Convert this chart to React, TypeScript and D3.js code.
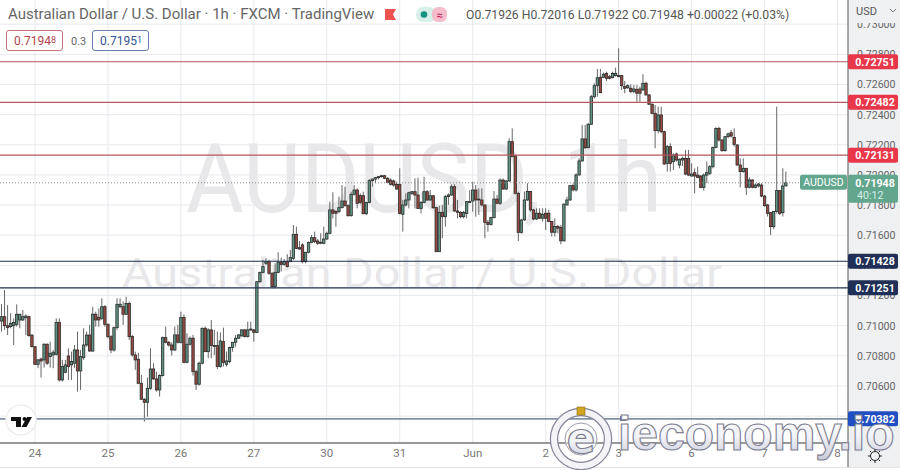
import * as React from 'react'
import * as d3 from 'd3'

// prices below are in 1e-5 units (71948 = 0.71948)
const opens = [
  71031,71060,71000,70994,71000,71009,71038,71038,71053,71060,
  70938,70861,70744,70779,70773,70877,70795,70806,70810,71022,
  70640,70691,70799,70740,70751,70839,70700,70788,70872,70938,
  70832,71076,71056,71049,71126,71009,70927,70839,70987,71126,
  71126,71076,71148,70928,70806,70777,70618,70512,70492,70585,
  70713,70647,70574,70669,70921,70890,70872,70839,70939,70890,
  71054,70757,70877,70917,70695,70612,70751,70983,70828,70972,
  70868,70868,70729,70894,70744,70762,70855,70890,70917,70932,
  70972,70928,70972,70972,70956,71292,71354,71414,71425,71348,
  71259,71354,71421,71407,71425,71425,71447,71606,71518,71536,
  71425,71487,71553,71584,71562,71547,71547,71575,71613,71768,
  71757,71757,71783,71827,71796,71730,71872,71900,71863,71863,
  71743,71818,71962,71973,71982,71989,71995,71978,71966,71960,
  71938,71938,71739,71801,71834,71878,71889,71867,71778,71818,
  71889,71834,71862,71783,71491,71752,71723,71856,71867,71922,
  71761,71752,71723,71745,71818,71827,71900,71840,71834,71801,
  71686,71672,71717,71840,71812,71966,71907,71960,72221,72128,
  71878,71619,71702,71834,71890,71768,71708,71746,71713,71746,
  71746,71691,71620,71658,71651,71563,71801,71834,71929,71901,
  72000,72093,72239,72181,72336,72519,72592,72648,72648,72674,
  72652,72645,72659,72659,72659,72586,72579,72575,72553,72568,
  72570,72564,72608,72531,72469,72409,72294,72398,72287,72077,
  72188,72088,72139,72066,72099,72110,72110,71993,72015,71999,
  71993,71918,71999,72011,72055,72183,72309,72232,72161,72254,
  72280,72249,72199,72066,72022,72044,71918,71967,71918,71927,
  71933,71860,71801,71750,71657,71757,71896,71750,71927,
]
const highs = [
  71144,71237,71137,71082,71049,71142,71076,71104,71076,71067,
  70942,70865,70779,70788,70883,70883,70894,70839,71049,71049,
  70773,70773,70850,70828,70872,70961,70839,70983,70961,71005,
  71126,71093,71115,71182,71137,71016,70938,70994,71182,71182,
  71160,71193,71160,70939,70828,70821,70673,70519,70656,70850,
  70751,70695,70678,70928,70994,70899,70890,70994,71005,71093,
  71076,70950,70928,70939,70707,70762,70987,70994,70983,71038,
  70972,70961,70956,70987,70828,70861,70890,70939,70943,70978,
  70978,71027,71027,70978,71297,71358,71436,71447,71436,71354,
  71414,71487,71452,71443,71474,71502,71668,71657,71562,71547,
  71490,71558,71602,71624,71575,71613,71657,71624,71823,71885,
  71768,71856,71933,71922,71805,71889,71933,71911,71878,71889,
  71823,71973,71975,71985,71992,71998,72000,71985,71977,71970,
  71955,72044,71834,71878,71889,71893,71977,71982,71827,71988,
  71900,71900,71867,71790,71795,71801,71867,71878,71938,71938,
  71834,71761,71761,71827,71900,71955,71933,71911,71911,71801,
  71701,71723,71893,71867,71977,71977,71966,72243,72309,72132,
  71889,71710,71890,71945,71894,71775,71779,71779,71779,71779,
  71768,71695,71713,71669,71669,71812,71856,71934,71945,72011,
  72111,72332,72332,72345,72531,72608,72703,72703,72680,72685,
  72663,72685,72712,72840,72663,72623,72601,72601,72597,72597,
  72586,72668,72619,72535,72475,72464,72453,72453,72294,72199,
  72210,72143,72148,72110,72121,72166,72166,72077,72044,72055,
  71999,72011,72088,72066,72188,72316,72320,72236,72258,72280,
  72298,72309,72203,72110,72110,72044,71984,71971,71945,71945,
  71945,71867,71808,71750,71757,72453,71900,72044,72022,
]
const lows = [
  70961,70972,70938,70983,70872,70994,70983,71031,70938,70927,
  70855,70740,70718,70656,70722,70740,70722,70718,70803,70629,
  70629,70684,70640,70640,70718,70563,70574,70773,70861,70828,
  70828,70994,70994,71038,70994,70916,70817,70828,70972,71115,
  71005,71071,70905,70795,70707,70612,70508,70364,70397,70574,
  70640,70563,70530,70662,70883,70861,70802,70833,70883,70883,
  70751,70751,70868,70669,70574,70603,70744,70825,70784,70784,
  70806,70713,70722,70729,70729,70751,70828,70861,70912,70928,
  70921,70921,70965,70894,70950,71281,71348,71403,71337,71248,
  71248,71348,71359,71398,71385,71421,71436,71509,71502,71414,
  71414,71480,71547,71547,71536,71540,71540,71569,71606,71712,
  71657,71746,71779,71790,71723,71723,71863,71779,71805,71739,
  71734,71812,71922,71945,71970,71982,71972,71945,71929,71922,
  71900,71739,71624,71790,71778,71867,71778,71774,71745,71812,
  71827,71827,71774,71491,71491,71580,71657,71801,71862,71756,
  71712,71712,71712,71712,71812,71756,71723,71734,71790,71580,
  71624,71664,71712,71805,71801,71900,71900,71955,72121,71871,
  71562,71610,71695,71828,71757,71700,71702,71708,71691,71635,
  71686,71591,71591,71613,71540,71558,71797,71828,71890,71890,
  71996,72088,72172,72177,72332,72508,72519,72542,72641,72623,
  72634,72641,72652,72648,72564,72542,72570,72542,72542,72486,
  72486,72557,72526,72464,72402,72177,72276,72276,72066,72022,
  72022,72033,72088,72044,72059,71999,71993,71989,71878,71978,
  71911,71896,71945,71999,72044,72177,72221,72155,72155,72243,
  72249,72188,72059,71918,72015,71867,71911,71911,71911,71918,
  71852,71790,71724,71602,71640,71745,71734,71724,71925,
]
const closes = [
  71060,71000,70987,71016,71022,71076,71076,71060,71064,70934,
  70861,70744,70773,70766,70877,70751,70817,70824,71022,70640,
  70729,70740,70729,70762,70839,70700,70795,70872,70938,70832,
  71076,71038,71038,71126,71009,70927,70839,70987,71142,71142,
  71076,71148,70927,70806,70773,70618,70512,70492,70585,70713,
  70647,70574,70669,70921,70890,70872,70839,70939,70890,71054,
  70757,70877,70917,70695,70612,70751,70983,70828,70972,70868,
  70862,70729,70899,70757,70766,70855,70890,70917,70939,70972,
  70928,70972,70978,70956,71292,71354,71392,71425,71348,71259,
  71354,71421,71407,71425,71392,71452,71606,71513,71509,71425,
  71487,71553,71584,71558,71547,71553,71575,71613,71768,71746,
  71746,71783,71827,71796,71730,71872,71900,71812,71818,71743,
  71818,71962,71973,71982,71989,71995,71978,71951,71938,71933,
  71907,71745,71801,71834,71882,71889,71867,71778,71818,71889,
  71834,71862,71783,71491,71752,71723,71856,71867,71922,71761,
  71752,71723,71752,71823,71823,71900,71834,71834,71801,71686,
  71672,71717,71840,71812,71966,71907,71960,72221,72121,71878,
  71619,71701,71834,71890,71768,71708,71746,71713,71739,71713,
  71691,71620,71658,71647,71563,71806,71834,71929,71901,72000,
  72093,72239,72181,72336,72519,72592,72645,72546,72668,72641,
  72641,72674,72674,72652,72592,72575,72592,72553,72570,72542,
  72542,72608,72531,72469,72409,72294,72398,72287,72073,72188,
  72077,72132,72099,72104,72110,72006,71999,72006,71993,71984,
  71918,71999,72015,72055,72183,72309,72232,72161,72254,72272,
  72258,72203,72066,72022,72044,71918,71967,71918,71933,71940,
  71860,71796,71745,71657,71757,71896,71745,71927,71948,
]

const dayLabels = ['24', '25', '26', '27', '30', '31', 'Jun', '2', '3', '6', '7', '8']
const dayIndexes = [11, 35, 59, 83, 107, 131, 155, 179, 203, 227, 251, 275]
const priceTicks = [0.73, 0.728, 0.726, 0.724, 0.722, 0.72, 0.718, 0.716, 0.714, 0.712, 0.71, 0.708, 0.706, 0.704]
const redLevels = [0.72751, 0.72482, 0.72131]
const navyLevels = [0.71428, 0.71251]
const blueLevel = 0.70382
const lastPrice = 0.71948
const legendValues = 'O0.71926 H0.72016 L0.71922 C0.71948 +0.00022 (+0.03%)'

const WIDTH = 900
const HEIGHT = 470
const PLOT_RIGHT = 848
const PLOT_BOTTOM = 443
const FONT = 'Roboto, "Open Sans", sans-serif'

export default function App() {
  const svgRef = React.useRef<SVGSVGElement | null>(null)

  React.useEffect(() => {
    const svg = d3.select(svgRef.current)
    svg.selectAll('*').remove()

    const x = d3.scaleBand<number>().domain(d3.range(280)).range([0, 851.2])
    const y = d3.scaleLinear().domain([0.726, 0.706]).range([84.5, 386])
    const cx = (i: number) => (x(i) as number) + x.bandwidth() / 2
    const fmt = d3.format('.5f')

    const defs = svg.append('defs')
    const clip = defs.append('clipPath').attr('id', 'plot')
    clip.append('rect').attr('width', PLOT_RIGHT).attr('height', PLOT_BOTTOM)
    const grad = defs.append('linearGradient').attr('id', 'silver').attr('x1', 0).attr('x2', 0).attr('y1', 0).attr('y2', 1)
    grad.append('stop').attr('offset', '0%').attr('stop-color', '#ffffff')
    grad.append('stop').attr('offset', '55%').attr('stop-color', '#f2f3f8')
    grad.append('stop').attr('offset', '100%').attr('stop-color', '#c9cbd8')

    svg.append('rect').attr('width', WIDTH).attr('height', HEIGHT).attr('fill', '#fff')

    const plot = svg.append('g').attr('clip-path', 'url(#plot)')

    // grid
    plot.selectAll('.hgrid').data(priceTicks).enter().append('line')
      .attr('x1', 0).attr('x2', PLOT_RIGHT)
      .attr('y1', d => y(d)).attr('y2', d => y(d))
      .attr('stroke', '#e7e9ee').attr('stroke-width', 1)
    plot.selectAll('.vgrid').data(dayIndexes).enter().append('line')
      .attr('x1', d => cx(d)).attr('x2', d => cx(d))
      .attr('y1', 0).attr('y2', PLOT_BOTTOM)
      .attr('stroke', '#e7e9ee').attr('stroke-width', 1)

    // watermark
    plot.append('text').text('AUDUSD, 1h')
      .attr('x', 424).attr('y', 212).attr('text-anchor', 'middle')
      .attr('font-family', FONT).attr('font-size', 96)
      .attr('textLength', 476).attr('lengthAdjust', 'spacingAndGlyphs')
      .attr('fill', '#e8e8ea')
    plot.append('text').text('Australian Dollar / U.S. Dollar')
      .attr('x', 422).attr('y', 287).attr('text-anchor', 'middle')
      .attr('font-family', FONT).attr('font-size', 40)
      .attr('textLength', 600).attr('lengthAdjust', 'spacingAndGlyphs')
      .attr('fill', '#e8e8ea')

    // candles
    const candles = plot.selectAll('.candle').data(opens).enter().append('g')
    candles.append('line')
      .attr('x1', (d, i) => cx(i)).attr('x2', (d, i) => cx(i))
      .attr('y1', (d, i) => y(highs[i] / 1e5)).attr('y2', (d, i) => y(lows[i] / 1e5))
      .attr('stroke', '#666').attr('stroke-width', 1)
    candles.append('rect')
      .attr('x', (d, i) => cx(i) - 1.2)
      .attr('width', 2.4)
      .attr('y', (d, i) => y(Math.max(d, closes[i]) / 1e5))
      .attr('height', (d, i) => Math.max(0.8, Math.abs(y(d / 1e5) - y(closes[i] / 1e5))))
      .attr('fill', (d, i) => (closes[i] >= d ? '#5f9585' : '#9a4a42'))
      .attr('stroke', '#2b2b2b').attr('stroke-width', 0.8)

    // drawn levels
    const levelLine = (price: number, color: string, w: number) => plot.append('line')
      .attr('x1', 0).attr('x2', PLOT_RIGHT).attr('y1', y(price)).attr('y2', y(price))
      .attr('stroke', color).attr('stroke-width', w)
    redLevels.forEach(p => levelLine(p, '#b5555f', 1.2))
    navyLevels.forEach(p => levelLine(p, '#1f2c4a', 1.1))
    levelLine(blueLevel, '#8390a3', 1.6)
    plot.append('line')
      .attr('x1', 0).attr('x2', PLOT_RIGHT).attr('y1', y(lastPrice)).attr('y2', y(lastPrice))
      .attr('stroke', '#8a8a8a').attr('stroke-dasharray', '1 2')

    // bottom border and time axis
    svg.append('line').attr('x1', 0).attr('x2', PLOT_RIGHT).attr('y1', PLOT_BOTTOM).attr('y2', PLOT_BOTTOM)
      .attr('stroke', '#333').attr('stroke-width', 1.2)
    const timeAxis = d3.axisBottom(x)
      .tickValues(dayIndexes)
      .tickSize(0)
      .tickPadding(6)
      .tickFormat((d: number) => dayLabels[dayIndexes.indexOf(d)])
    const tg = svg.append('g').attr('transform', `translate(0,${PLOT_BOTTOM})`).call(timeAxis as any)
    tg.select('.domain').remove()
    tg.selectAll('text').attr('font-family', FONT).attr('font-size', 11.5).attr('fill', '#777')
    svg.append('line').attr('x1', 0).attr('x2', WIDTH).attr('y1', 467.5).attr('y2', 467.5).attr('stroke', '#e4e4e4')

    // price axis
    svg.append('rect').attr('x', PLOT_RIGHT).attr('width', WIDTH - PLOT_RIGHT).attr('height', 467).attr('fill', '#eff0f2')
    const priceAxis = d3.axisRight(y).tickValues(priceTicks).tickSize(0).tickPadding(9).tickFormat(d => fmt(d as number))
    const pg = svg.append('g').attr('transform', `translate(${PLOT_RIGHT},0)`).call(priceAxis as any)
    pg.select('.domain').remove()
    pg.selectAll('text').attr('font-family', FONT).attr('font-size', 10.6).attr('fill', '#666')
    svg.append('rect').attr('x', PLOT_RIGHT).attr('width', WIDTH - PLOT_RIGHT).attr('height', 23).attr('fill', '#eff0f2')
    svg.append('line').attr('x1', PLOT_RIGHT).attr('x2', PLOT_RIGHT).attr('y1', 0).attr('y2', 467)
      .attr('stroke', '#555').attr('stroke-width', 1)
    svg.append('text').text('USD').attr('x', 856).attr('y', 15)
      .attr('font-family', FONT).attr('font-size', 11).attr('fill', '#555')
    svg.append('path').attr('d', 'M890 9l3 3 3-3').attr('fill', 'none').attr('stroke', '#777')

    const priceLabel = (price: number, color: string) => {
      const g = svg.append('g').attr('transform', `translate(${PLOT_RIGHT},${y(price)})`)
      g.append('rect').attr('y', -7.5).attr('width', 50).attr('height', 15).attr('rx', 2).attr('fill', color)
      g.append('text').text(fmt(price)).attr('x', 27).attr('y', 4).attr('text-anchor', 'middle')
        .attr('font-family', FONT).attr('font-size', 10.6).attr('font-weight', 700).attr('fill', '#fff')
    }
    redLevels.forEach(p => priceLabel(p, '#e8364a'))
    navyLevels.forEach(p => priceLabel(p, '#1f2f55'))
    priceLabel(blueLevel, '#1f4fc0')

    // last price tag
    const ly = y(lastPrice)
    svg.append('rect').attr('x', 800).attr('y', ly - 8).attr('width', 47).attr('height', 15).attr('rx', 2).attr('fill', '#62a68e')
    svg.append('text').text('AUDUSD').attr('x', 823.5).attr('y', ly + 3.5).attr('text-anchor', 'middle')
      .attr('font-family', FONT).attr('font-size', 10.5).attr('fill', '#fff')
    svg.append('rect').attr('x', PLOT_RIGHT).attr('y', ly - 8).attr('width', 50).attr('height', 28).attr('rx', 2).attr('fill', '#62a68e')
    svg.append('text').text(fmt(lastPrice)).attr('x', 875).attr('y', ly + 4).attr('text-anchor', 'middle')
      .attr('font-family', FONT).attr('font-size', 10.6).attr('font-weight', 700).attr('fill', '#fff')
    svg.append('text').text('40:12').attr('x', 857).attr('y', ly + 16)
      .attr('font-family', FONT).attr('font-size', 10.6).attr('fill', '#d5efe5')

    // header legend
    svg.append('text').text('Australian Dollar / U.S. Dollar · 1h · FXCM · TradingView')
      .attr('x', 8).attr('y', 19).attr('font-family', FONT).attr('font-size', 15).attr('fill', '#666')
    svg.append('path').attr('d', 'M385 9h11l-3 5.5 3 5.5h-11z').attr('fill', '#ef5350')
    svg.append('rect').attr('x', 416).attr('y', 7).attr('width', 20).attr('height', 15).attr('rx', 7).attr('fill', '#d6efe8')
    svg.append('rect').attr('x', 432).attr('y', 7).attr('width', 15).attr('height', 15).attr('rx', 6).attr('fill', '#f5bccb')
    svg.append('circle').attr('cx', 424).attr('cy', 14.5).attr('r', 3.3).attr('fill', '#12917f')
    svg.append('text').text('≈').attr('x', 439.5).attr('y', 18.5).attr('text-anchor', 'middle')
      .attr('font-family', FONT).attr('font-size', 11).attr('fill', '#c2185b')
    svg.append('text').text(legendValues).attr('x', 466).attr('y', 19)
      .attr('font-family', FONT).attr('font-size', 12.2).attr('fill', '#555')

    // sell / buy boxes
    const quoteBox = (bx: number, main: string, small: string, color: string) => {
      svg.append('rect').attr('x', bx + 0.5).attr('y', 30.5).attr('width', 56).attr('height', 20).attr('rx', 2.5)
        .attr('fill', '#fff').attr('stroke', color).attr('stroke-opacity', 0.75)
      const t = svg.append('text').attr('x', bx + 8).attr('y', 45).attr('font-family', FONT).attr('font-size', 12).attr('fill', color)
      t.append('tspan').text(main)
      t.append('tspan').text(small).attr('dy', -2).attr('font-size', 9)
    }
    quoteBox(6, '0.7194', '8', '#b2454f')
    quoteBox(92, '0.7195', '1', '#35548f')
    svg.append('text').text('0.3').attr('x', 71).attr('y', 44.5)
      .attr('font-family', FONT).attr('font-size', 11).attr('fill', '#666')

    // TradingView badge
    svg.append('circle').attr('cx', 21).attr('cy', 420).attr('r', 15).attr('fill', '#fff').attr('stroke', '#eee').attr('stroke-width', 1.5)
    svg.append('path').attr('d', 'M11 417h10v10h-5v-6h-5z M27 417h5l-5.5 10h-5z').attr('fill', '#111')
    svg.append('circle').attr('cx', 24.5).attr('cy', 419).attr('r', 2).attr('fill', '#111')

    // ieconomy.io stamp
    const stamp = svg.append('g')
    stamp.append('circle').attr('cx', 581).attr('cy', 439).attr('r', 27)
      .attr('fill', 'none').attr('stroke', '#85869a').attr('stroke-width', 8.5)
    stamp.append('circle').attr('cx', 581).attr('cy', 439).attr('r', 27)
      .attr('fill', 'none').attr('stroke', '#f4f4f8').attr('stroke-width', 6)
    stamp.append('circle').attr('cx', 581).attr('cy', 439).attr('r', 16)
      .attr('fill', '#fff').attr('fill-opacity', 0.55).attr('stroke', '#9a9bab').attr('stroke-width', 1)
    stamp.append('text').text('e').attr('x', 581).attr('y', 453).attr('text-anchor', 'middle')
      .attr('font-family', '"DejaVu Sans", sans-serif').attr('font-size', 42).attr('font-weight', 700)
      .attr('fill', 'url(#silver)').attr('stroke', '#7d7e90').attr('stroke-width', 1.2)
    stamp.append('rect').attr('x', 577).attr('y', 407).attr('width', 8).attr('height', 8).attr('fill', '#d2a520').attr('stroke', '#8a6d12').attr('stroke-width', 0.6)
    stamp.append('rect').attr('x', 620).attr('y', 416).attr('width', 6).attr('height', 5).attr('fill', '#6d7192')
    stamp.append('text').text('ieconomy.io').attr('x', 618).attr('y', 450)
      .attr('font-family', '"Liberation Sans", sans-serif').attr('font-size', 48).attr('font-weight', 700)
      .attr('fill', 'url(#silver)').attr('stroke', '#7d7e90').attr('stroke-width', 1.1)

    // settings gear
    svg.append('circle').attr('cx', 875).attr('cy', 456).attr('r', 4.5).attr('fill', 'none').attr('stroke', '#222').attr('stroke-width', 1)
    svg.append('path').attr('d', 'M875 449v2M875 461v2M868 456h2M880 456h2M870 451l1.4 1.4M878.6 459.6l1.4 1.4M870 461l1.4-1.4M878.6 452.4l1.4-1.4')
      .attr('stroke', '#222').attr('stroke-width', 1)
  }, [])

  return <svg ref={svgRef} width={WIDTH} height={HEIGHT} style={{ position: 'absolute', left: 0, top: 0 }} />
}
